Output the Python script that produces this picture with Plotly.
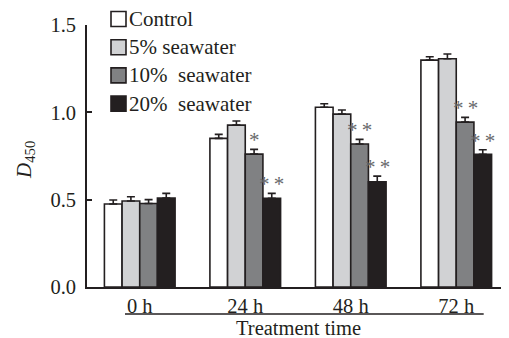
import plotly.graph_objects as go

categories = ["0 h", "24 h", "48 h", "72 h"]
series_names = ["Control", "5% seawater", "10%  seawater", "20%  seawater"]
control = [0.475, 0.851, 1.029, 1.299]
sw5 = [0.492, 0.927, 0.990, 1.307]
sw10 = [0.478, 0.761, 0.819, 0.944]
sw20 = [0.509, 0.508, 0.603, 0.760]
err_control = [0.023, 0.023, 0.020, 0.019]
err_sw5 = [0.025, 0.023, 0.023, 0.027]
err_sw10 = [0.022, 0.027, 0.026, 0.027]
err_sw20 = [0.027, 0.028, 0.032, 0.026]
sig_sw10 = ["", "*", "**", "**"]
sig_sw20 = ["", "**", "**", "**"]

colors = ["#ffffff", "#d1d2d4", "#808183", "#231f20"]
values = [control, sw5, sw10, sw20]
errors = [err_control, err_sw5, err_sw10, err_sw20]
FONT = "Liberation Serif"
INK = "#231f20"

# page is offset by the default 8px body margin; figure sized to fit the window
W, H = 501, 330
ML, MR, MT, MB = 79, 0, 17, 51
PW = W - ML - MR
PH = H - MT - MB

fig = go.Figure()
for name, vals, errs, col in zip(series_names, values, errors, colors):
    fig.add_trace(go.Bar(
        x=categories, y=vals, name=name, showlegend=False,
        marker=dict(color=col, line=dict(color=INK, width=1.6)),
        error_y=dict(type="data", array=errs, arrayminus=[0] * len(errs),
                     symmetric=False, color=INK, thickness=1.6, width=4),
    ))

bargap = 0.33
w = (1 - bargap) / 4
offsets = [-1.5 * w, -0.5 * w, 0.5 * w, 1.5 * w]
annots = []
for si, (sig, vals, errs) in enumerate([(sig_sw10, sw10, err_sw10), (sig_sw20, sw20, err_sw20)]):
    k = si + 2
    for i, s in enumerate(sig):
        if s:
            annots.append(dict(x=i + offsets[k], y=vals[i] + errs[i], xref="x", yref="y",
                               text="\u2009".join(s), showarrow=False, yanchor="bottom", yshift=-5,
                               font=dict(family=FONT, size=21, color="#68696b")))

# manual legend (compact symbol/text spacing like the reference)
shapes = []
sq = 15
for r, (name, col) in enumerate(zip(series_names, colors)):
    cy = 1 + (6 - r * 28.2) / PH
    x0 = 24 / PW
    shapes.append(dict(type="rect", xref="paper", yref="paper",
                       x0=x0, x1=x0 + sq / PW, y0=cy - sq / 2 / PH, y1=cy + sq / 2 / PH,
                       fillcolor=col, line=dict(color=INK, width=1.6)))
    annots.append(dict(x=(24 + sq + 1) / PW, y=cy, xref="paper", yref="paper", text=name,
                       showarrow=False, xanchor="left", yanchor="middle",
                       font=dict(family=FONT, size=21, color=INK)))

annots.append(dict(x=-62 / PW, y=0.485, xref="paper", yref="paper", text="<i>D</i><sub>450</sub>",
                   showarrow=False, textangle=-90, xanchor="center", yanchor="middle",
                   font=dict(family=FONT, size=21, color=INK)))
annots.append(dict(x=1.5, y=-41 / PH, xref="x", yref="paper", text="Treatment time",
                   showarrow=False, xanchor="center", yanchor="middle",
                   font=dict(family=FONT, size=20.5, color=INK)))
shapes.append(dict(type="line", xref="x", yref="paper", x0=-0.14, x1=3.26, y0=-27 / PH, y1=-27 / PH,
                   line=dict(color=INK, width=1.6)))

fig.update_layout(
    width=W, height=H,
    margin=dict(l=ML, r=MR, t=MT, b=MB),
    plot_bgcolor="white", paper_bgcolor="white",
    barmode="group", bargap=bargap, bargroupgap=0,
    font=dict(family=FONT, size=20.5, color=INK),
    showlegend=False,
    annotations=annots,
    shapes=shapes,
)
fig.update_xaxes(range=[-0.5, 3.5], showline=True, linecolor=INK, linewidth=1.6,
                 ticks="", showgrid=False, zeroline=False)
fig.update_yaxes(range=[0, 1.5], tickvals=[0, 0.5, 1.0, 1.5], ticktext=["0.0", "0.5", "1.0", "1.5"],
                 showline=True, linecolor=INK, linewidth=1.6, ticks="inside", ticklen=5,
                 tickwidth=1.6, tickcolor=INK, showgrid=False, zeroline=False,
                 ticklabelstandoff=5)

fig.write_html("out.html")
